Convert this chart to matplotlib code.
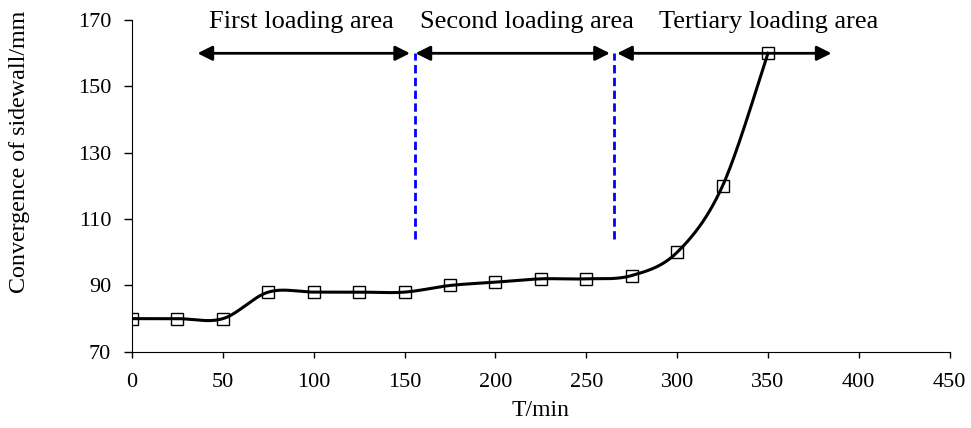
import matplotlib
matplotlib.use("Agg")
import matplotlib.pyplot as plt
import numpy as np

plt.rcParams['font.family'] = ['Liberation Serif', 'DejaVu Serif']

# measured data
t_min = [0, 25, 50, 75, 100, 125, 150, 175, 200, 225, 250, 275, 300, 325, 350]
convergence = [80, 80, 80, 88, 88, 88, 88, 90, 91, 92, 92, 93, 100, 120, 160]

# loading areas (start, end) and labels
area_labels = ['First loading area', 'Second loading area', 'Tertiary loading area']
area_spans = [(36, 153), (156, 263), (267, 385)]
area_label_x = [93, 217.5, 350.5]
boundaries = [156, 265]
boundary_y = (104, 160)
arrow_y = 160
label_y = 169.5


def excel_smooth(x, y, n=40):
    # Excel-style smoothed line (Bezier with 1/6 tangent control points)
    x = np.asarray(x, float)
    y = np.asarray(y, float)
    px = np.concatenate([[x[0]], x, [x[-1]]])
    py = np.concatenate([[y[0]], y, [y[-1]]])
    xs, ys = [], []
    s = np.linspace(0, 1, n)
    for i in range(1, len(px) - 2):
        p0 = np.array([px[i], py[i]])
        p3 = np.array([px[i + 1], py[i + 1]])
        c1 = p0 + (np.array([px[i + 1], py[i + 1]]) - np.array([px[i - 1], py[i - 1]])) / 6
        c2 = p3 - (np.array([px[i + 2], py[i + 2]]) - np.array([px[i], py[i]])) / 6
        b = ((1 - s) ** 3)[:, None] * p0 + (3 * (1 - s) ** 2 * s)[:, None] * c1 \
            + (3 * (1 - s) * s ** 2)[:, None] * c2 + (s ** 3)[:, None] * p3
        xs.append(b[:, 0])
        ys.append(b[:, 1])
    return np.concatenate(xs), np.concatenate(ys)


fig = plt.figure(figsize=(9.71, 4.28), dpi=100)
ax = fig.add_axes([0.136, 0.178, 0.842, 0.775])

sx, sy = excel_smooth(t_min, convergence)
ax.plot(sx, sy, color='black', linewidth=2.2, zorder=3)
ax.plot(t_min, convergence, linestyle='none', marker='s', markersize=8,
        markerfacecolor='none', markeredgecolor='black', markeredgewidth=1.0, zorder=4)

for (x0, x1), lab, lx in zip(area_spans, area_labels, area_label_x):
    ax.annotate('', xy=(x0, arrow_y), xytext=(x1, arrow_y),
                arrowprops=dict(arrowstyle='<|-|>', color='black', lw=2,
                                mutation_scale=22, shrinkA=0, shrinkB=0))
    ax.text(lx, label_y, lab, ha='center', va='center', fontsize=19)

for bx in boundaries:
    ax.plot([bx, bx], boundary_y, color='blue', linewidth=2, linestyle=(0, (3, 1.6)))

ax.set_xlim(0, 450)
ax.set_ylim(70, 170)
ax.set_xticks(np.arange(0, 451, 50))
ax.set_yticks(np.arange(70, 171, 20))
ax.tick_params(axis='both', labelsize=16, direction='out', width=1)
ax.tick_params(axis='x', length=4.5, pad=11)
ax.tick_params(axis='y', length=6, pad=9)
ax.spines['top'].set_visible(False)
ax.spines['right'].set_visible(False)

fig.text(540 / 971, 1 - 410 / 428, 'T/min', ha='center', va='center', fontsize=17)
fig.text(20 / 971, 1 - 152 / 428, 'Convergence of sidewall/mm', ha='center', va='center',
         rotation=90, fontsize=17.3)

fig.savefig('out.png', dpi=100)
